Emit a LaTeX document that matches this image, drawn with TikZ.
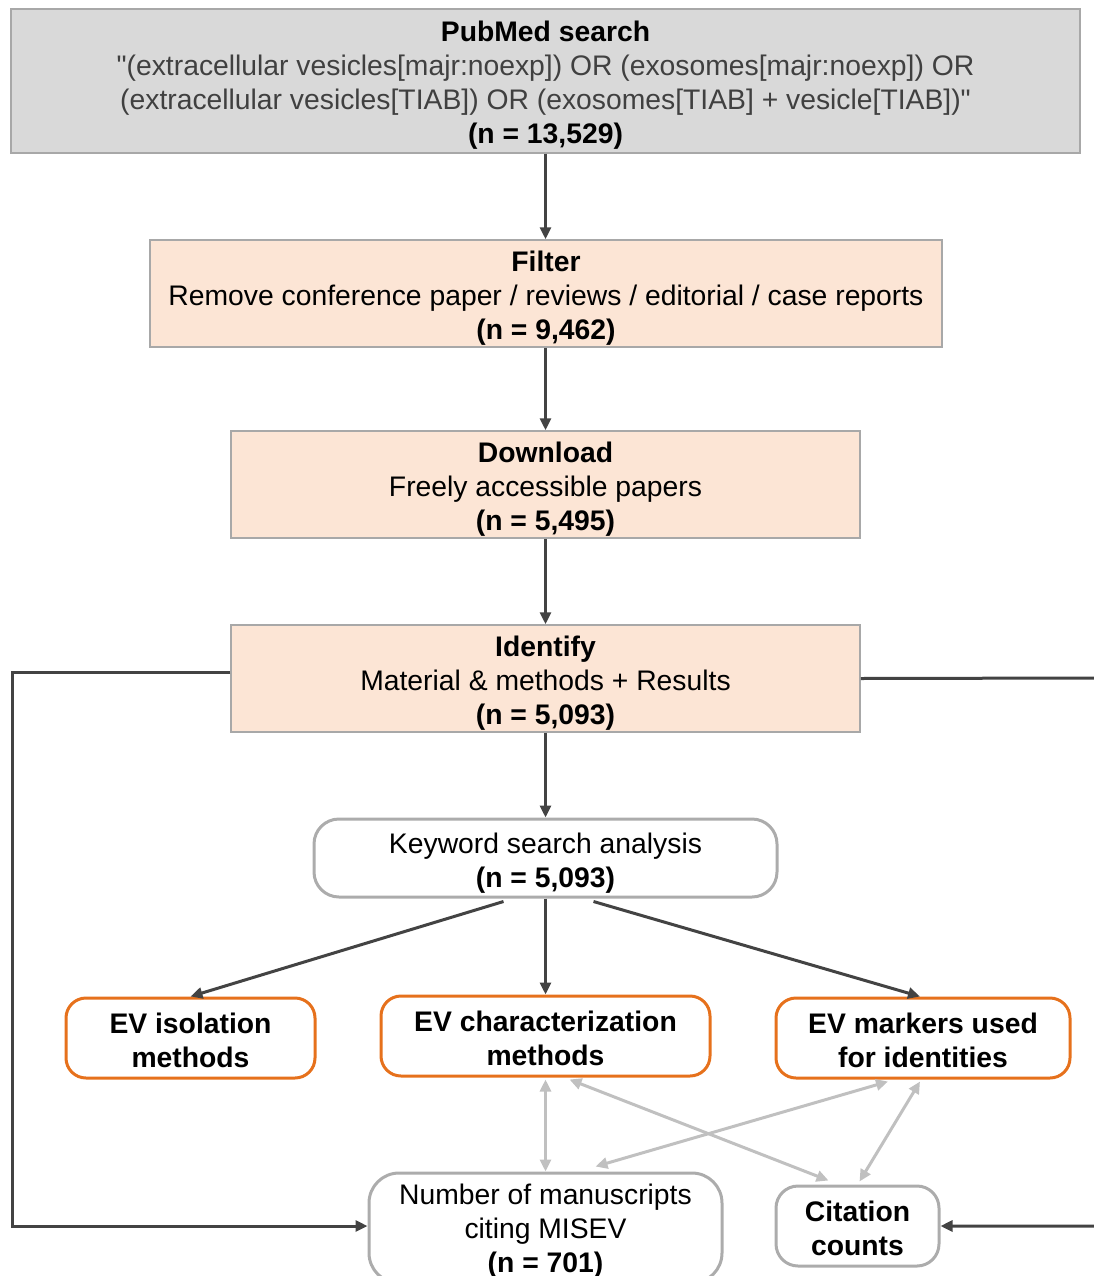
\documentclass[tikz,border=0pt]{standalone}
\usepackage{fontspec}
\setmainfont{Liberation Sans}
\font\plainq="Liberation Sans" at 28.3pt
\usetikzlibrary{arrows.meta,calc}
\definecolor{pubgray}{RGB}{217,217,217}
\definecolor{boxgray}{RGB}{168,168,168}
\definecolor{peachfill}{RGB}{252,229,213}
\definecolor{rgray}{RGB}{172,172,172}
\definecolor{darkline}{RGB}{67,67,67}
\definecolor{lightline}{RGB}{192,192,192}
\definecolor{evorange}{RGB}{230,113,28}
\definecolor{querytext}{RGB}{64,64,64}
\newcommand\myfs{\fontsize{28.3}{34}\selectfont}
\newcommand\tstr[1]{\rule{0pt}{#1pt}}
\newcommand\dq{{\plainq"}}
\tikzset{
  base/.style={inner sep=0pt, align=center, font=\myfs, text=black},
  pubbox/.style={base, draw=boxgray, fill=pubgray, line width=1.5pt},
  peachbox/.style={base, draw=boxgray, fill=peachfill, line width=1.5pt},
  roundbox/.style={base, draw=rgray, fill=white, line width=3pt, rounded corners=25pt},
  orangebox/.style={base, draw=evorange, fill=white, line width=3pt, rounded corners=20pt, font=\myfs\bfseries},
  flow/.style={draw=darkline, line width=3pt, -{Triangle[length=12pt,width=11pt]}},
  link/.style={draw=lightline, line width=3pt, {Triangle[length=12pt,width=11pt]}-{Triangle[length=12pt,width=11pt]}},
}
\begin{document}
\begin{tikzpicture}[x=1pt,y=-1pt]
\useasboundingbox (0,0) rectangle (1093,1276);
\node[pubbox, minimum width=1069pt, minimum height=144pt] (pub) at (545.5,81)
  {\tstr{28.5}\textbf{PubMed search}\\ \textcolor{querytext}{\dq(extracellular vesicles[majr:noexp]) OR (exosomes[majr:noexp]) OR}\\ \textcolor{querytext}{(extracellular vesicles[TIAB]) OR (exosomes[TIAB] + vesicle[TIAB])\dq}\\ \textbf{(n = 13,529)}};
\node[peachbox, minimum width=792pt, minimum height=107pt] (filter) at (546,293.5)
  {\tstr{30.5}\textbf{Filter}\\ Remove conference paper / reviews / editorial / case reports\\ \textbf{(n = 9,462)}};
\node[peachbox, minimum width=629pt, minimum height=107pt] (download) at (545.5,484.5)
  {\tstr{30.5}\textbf{Download}\\ Freely accessible papers\\ \textbf{(n = 5,495)}};
\node[peachbox, minimum width=629pt, minimum height=107pt] (identify) at (545.5,678.5)
  {\tstr{30.5}\textbf{Identify}\\ Material \& methods + Results\\ \textbf{(n = 5,093)}};
\node[roundbox, minimum width=463pt, minimum height=78pt] (keyword) at (545.5,858)
  {\tstr{30.5}Keyword search analysis\\ \textbf{(n = 5,093)}};
\node[orangebox, minimum width=249pt, minimum height=80pt] (iso) at (190.5,1038)
  {\tstr{24.5}EV isolation\\ methods};
\node[orangebox, minimum width=329pt, minimum height=80pt] (char) at (545.5,1036)
  {\tstr{24.5}EV characterization\\ methods};
\node[orangebox, minimum width=294pt, minimum height=80pt] (markers) at (923,1038)
  {\tstr{24.5}EV markers used\\ for identities};
\node[roundbox, rounded corners=30pt, minimum width=353pt, minimum height=110pt] (number) at (545.5,1228)
  {\tstr{26.5}Number of manuscripts\\ citing MISEV\\ \textbf{(n = 701)}};
\node[roundbox, rounded corners=22pt, minimum width=163pt, minimum height=80pt, font=\myfs\bfseries] (citation) at (857.5,1226)
  {\tstr{24.5}Citation\\ counts};
% main flow
\draw[flow] (pub) -- (pub.south |- filter.north);
\draw[flow] (filter.south -| download) -- (download.north);
\draw[flow] (download) -- (identify);
\draw[flow] (identify) -- (keyword);
\draw[flow] ([xshift=-42pt,yshift=-3pt]keyword.south) -- (iso.north);
\draw[flow] (keyword) -- (char);
\draw[flow] ([xshift=48pt,yshift=-3pt]keyword.south) -- ([xshift=-3pt]markers.north);
% side loops
\coordinate (L1) at (12,672);
\coordinate (L2) at (12,1226);
\draw[flow] ([yshift=6.5pt]identify.west) -- (L1) -- (L2) -- (L2 -| number.west);
\coordinate (R1) at (1097,678);
\coordinate (R2) at (1097,1226);
\draw[flow] (identify.east) -- (R1) -- (R2) -- (R2 -| citation.east);
% light links
\draw[link] ([yshift=-2pt]char.south) -- (number.north);
\draw[link] ([xshift=24pt,yshift=-2pt]char.south) -- ([xshift=-29pt,yshift=4pt]citation.north);
\draw[link] ([xshift=-35pt,yshift=-2pt]markers.south) -- ([xshift=50pt,yshift=5pt]number.north);
\draw[link] ([xshift=-3pt,yshift=-2pt]markers.south) -- ([xshift=2pt,yshift=3pt]citation.north);
\end{tikzpicture}
\end{document}
